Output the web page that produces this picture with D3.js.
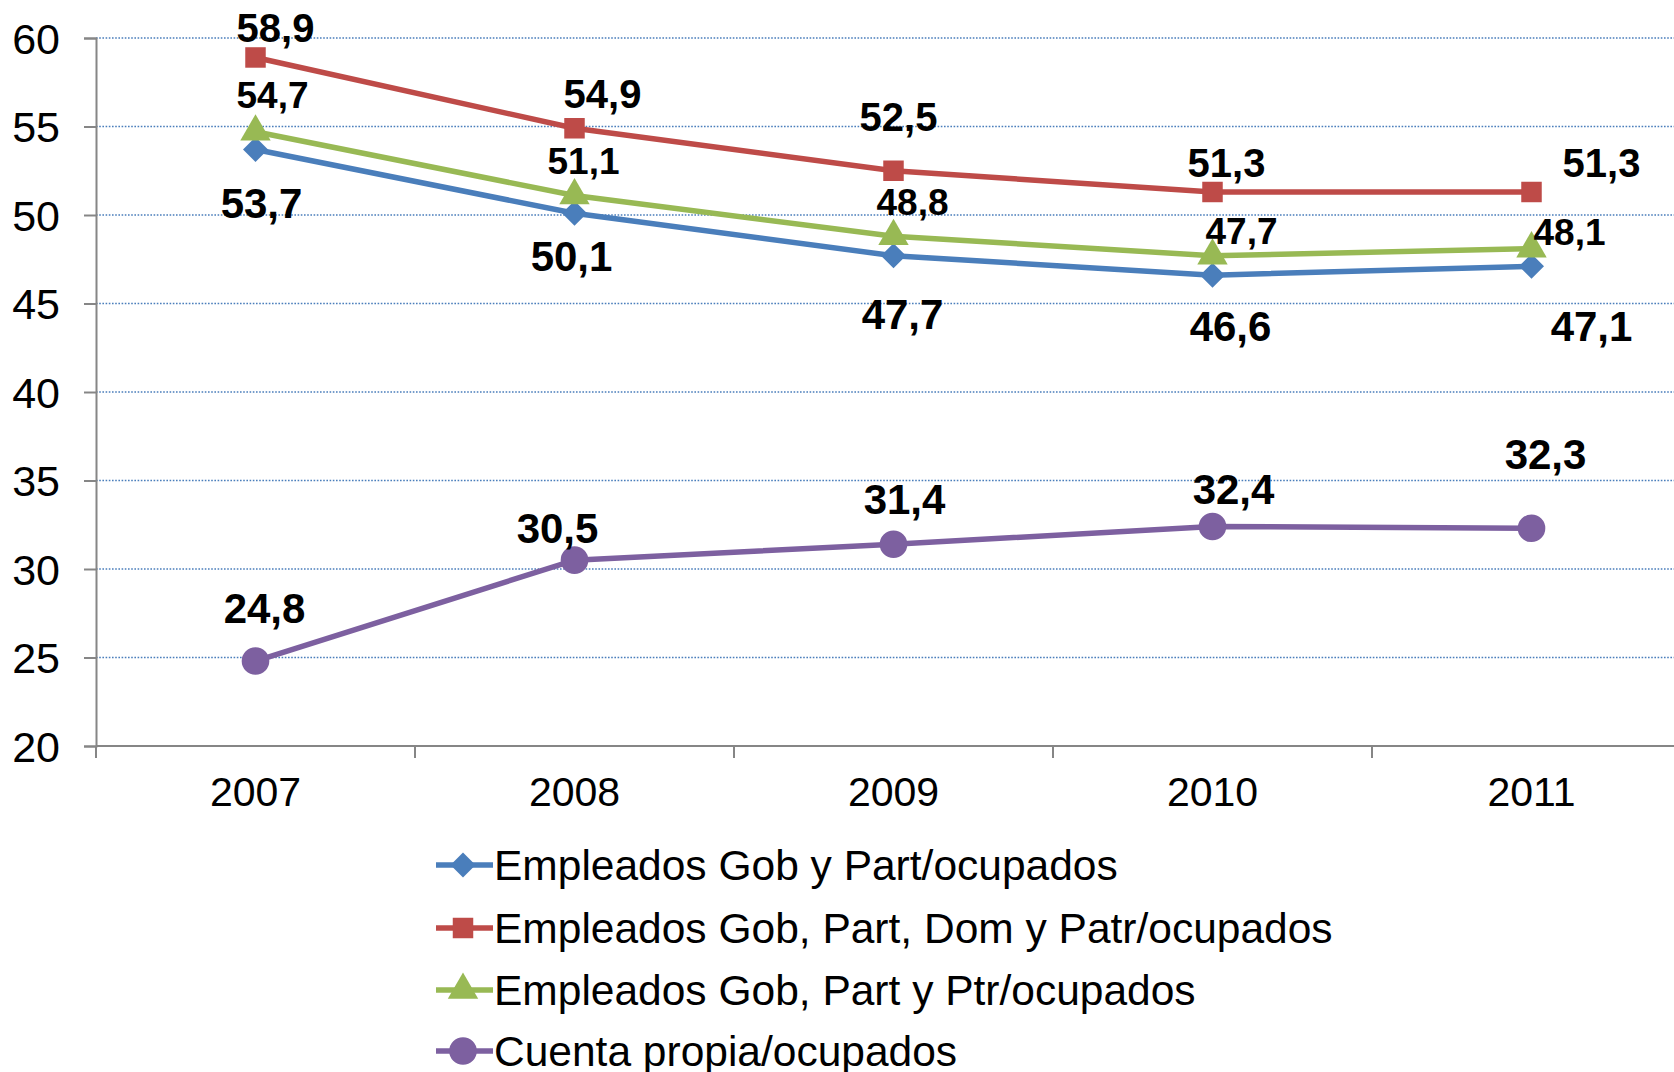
<!DOCTYPE html>
<html>
<head>
<meta charset="utf-8">
<script src="https://cdn.jsdelivr.net/npm/d3@7"></script>
<style>
  body { margin: 0; background: #fff; }
  svg { display: block; font-family: "Liberation Sans", Arial, sans-serif; }
</style>
</head>
<body>
<svg id="chart" width="1674" height="1072"></svg>
<script>
const years = ['2007', '2008', '2009', '2010', '2011'];
const yTicks = [20, 25, 30, 35, 40, 45, 50, 55, 60];

const seriesNames = [
    'Empleados Gob y Part/ocupados',
    'Empleados Gob, Part, Dom y Patr/ocupados',
    'Empleados Gob, Part y Ptr/ocupados',
    'Cuenta propia/ocupados'
];
const gobPart = [53.7, 50.1, 47.7, 46.6, 47.1];
const gobPartDomPatr = [58.9, 54.9, 52.5, 51.3, 51.3];
const gobPartPtr = [54.7, 51.1, 48.8, 47.7, 48.1];
const cuentaPropia = [24.8, 30.5, 31.4, 32.4, 32.3];

// layout / style per series (not data)
const colors = ['#4a7ebb', '#be4b48', '#98b954', '#7d60a0'];
const markers = [d3.symbolDiamond2, d3.symbolSquare, d3.symbolTriangle, d3.symbolCircle];
const markerSize = [400, 420, 400, 600];
const labelFont = [42, 40, 37, 42];
// where each value label sits relative to its point
const labelShift = [
    [[6, 53], [-3, 43], [9, 58], [18, 51], [60, 60]],
    [[20, -30], [28, -35], [5, -54], [14, -29], [70, -29]],
    [[17, -37], [9, -35], [19, -35], [29, -25], [38, -17]],
    [[9, -53], [-17, -32], [11, -45], [21, -38], [14, -74]]
];

const allSeries = [gobPart, gobPartDomPatr, gobPartPtr, cuentaPropia];

const svg = d3.select('#chart');
const plotLeft = 96, plotRight = 1691, plotTop = 38, plotBottom = 746;

const x = d3.scaleBand().domain(years).range([plotLeft, plotRight]);
const y = d3.scaleLinear().domain([20, 60]).range([plotBottom, plotTop]);
const cx = d => x(d) + x.bandwidth() / 2;

// grid lines
svg.append('g')
    .selectAll('line')
    .data(yTicks.filter(t => t > 20))
    .enter()
    .append('line')
    .attr('x1', plotLeft).attr('x2', 1674)
    .attr('y1', d => y(d)).attr('y2', d => y(d))
    .style('stroke', '#4a7ebb')
    .style('stroke-width', 1.6)
    .style('stroke-dasharray', '1.6,1.6');

// y axis
const yAxis = svg.append('g')
    .attr('transform', `translate(${plotLeft},0)`)
    .call(d3.axisLeft(y).tickValues(yTicks).tickSize(12).tickPadding(24));
yAxis.select('.domain').style('stroke', '#868686').style('stroke-width', 2);
yAxis.selectAll('.tick line').style('stroke', '#868686').style('stroke-width', 2);
yAxis.selectAll('.tick text')
    .style('font-size', '43px')
    .style('font-family', '"Liberation Sans", Arial, sans-serif')
    .attr('fill', '#000')
    .attr('dy', '0.36em');

// x axis
const xAxis = svg.append('g')
    .attr('transform', `translate(0,${plotBottom})`)
    .call(d3.axisBottom(x).tickSize(0).tickPadding(31));
xAxis.select('.domain').attr('d', `M${plotLeft},0H1674`).style('stroke', '#868686').style('stroke-width', 2);
xAxis.selectAll('.tick text')
    .style('font-size', '41px')
    .style('font-family', '"Liberation Sans", Arial, sans-serif')
    .attr('fill', '#000')
    .attr('dy', '0.71em');
// ticks between categories
svg.append('g')
    .selectAll('line')
    .data(years)
    .enter()
    .append('line')
    .attr('x1', d => x(d)).attr('x2', d => x(d))
    .attr('y1', plotBottom).attr('y2', plotBottom + 12)
    .style('stroke', '#868686')
    .style('stroke-width', 2);

const line = d3.line()
    .x((d, i) => cx(years[i]))
    .y(d => y(d));

allSeries.forEach((vals, s) => {
    const g = svg.append('g');
    g.append('path')
        .datum(vals)
        .attr('d', line)
        .style('fill', 'none')
        .style('stroke', colors[s])
        .style('stroke-width', 5.5);

    g.selectAll('path.mk')
        .data(vals)
        .enter()
        .append('path')
        .attr('class', 'mk')
        .attr('d', d3.symbol().type(markers[s]).size(markerSize[s]))
        .attr('transform', (d, i) => `translate(${cx(years[i])},${y(d)})`)
        .style('fill', colors[s]);

    g.selectAll('text')
        .data(vals)
        .enter()
        .append('text')
        .attr('x', (d, i) => cx(years[i]) + labelShift[s][i][0])
        .attr('y', (d, i) => y(d) + labelShift[s][i][1])
        .attr('text-anchor', 'middle')
        .attr('dy', '0.36em')
        .style('font-weight', 'bold')
        .style('font-size', labelFont[s] + 'px')
        .text(d => d.toFixed(1).replace('.', ','));
});

// legend
const legendY = [865, 928, 990, 1051];
const legend = svg.append('g')
    .selectAll('g')
    .data(seriesNames)
    .enter()
    .append('g')
    .attr('transform', (d, i) => `translate(0,${legendY[i]})`);

legend.append('line')
    .attr('x1', 436).attr('x2', 493)
    .attr('y1', 0).attr('y2', 0)
    .style('stroke', (d, i) => colors[i])
    .style('stroke-width', 5.5);

legend.append('path')
    .attr('d', (d, i) => d3.symbol().type(markers[i]).size(markerSize[i])())
    .attr('transform', 'translate(463,0)')
    .style('fill', (d, i) => colors[i]);

legend.append('text')
    .attr('x', 494)
    .attr('y', 0)
    .attr('dy', '0.36em')
    .style('font-size', '42.5px')
    .text(d => d);
</script>
</body>
</html>
